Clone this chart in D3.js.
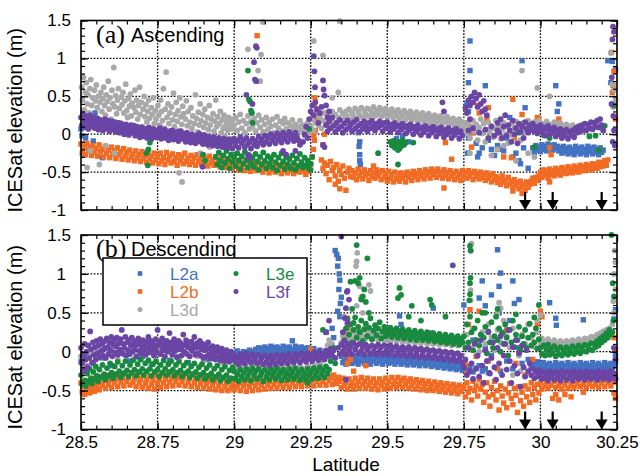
<!DOCTYPE html>
<html>
<head>
<meta charset="utf-8">
<script src="https://cdn.jsdelivr.net/npm/d3@7"></script>
<style>
  body { margin: 0; background: #fff; }
  text { font-family: "Liberation Sans", Arial, Helvetica, sans-serif; }
</style>
</head>
<body>
<div id="chart"></div>
<script>
// ---- axis / legend values ----
const latTicks = [28.5, 28.75, 29, 29.25, 29.5, 29.75, 30, 30.25];
const elevTicks = [-1, -0.5, 0, 0.5, 1, 1.5];
const arrowLats = [29.95, 30.04, 30.20];
const seriesNames = ["L2a", "L2b", "L3d", "L3e", "L3f"];
const seriesColors = ["#4372c3", "#f26b22", "#a8a8a8", "#178a3e", "#6a45a6"];
const seriesShapes = ["square", "square", "circle", "circle", "circle"];

// ---- (a) ascending: [latitude, elevation m] ----
const ascL2a = [
[28.500,.07],[28.503,-.02],[28.507,.30],[28.510,-.17],[28.512,-.27],[28.505,.12],[28.515,-.05],[28.546,.28],[28.540,-.09],[28.570,-.31],
[29.405,.02],[29.41,-.10],[29.41,-.27],[29.412,-.40],[29.408,-.16],[29.41,-.35],[29.53,-.06],[29.57,-.10],[29.55,-.02],
[29.77,1.23],[29.77,.84],[29.765,.68],[29.76,.41],[29.765,.30],[29.76,.15],[29.765,-.05],[29.762,-.25],[29.78,.02],[29.79,-.12],[29.80,-.25],[29.81,-.18],[29.795,-.30],[29.82,.64],[29.83,-.08],[29.84,-.20],[29.85,-.28],[29.86,-.15],[29.87,-.20],[29.88,-.22],[29.89,-.05],[29.90,.22],[29.91,-.30],[29.92,-.25],[29.93,-.35],[29.935,-.39],[29.94,.97],[29.95,.35],[29.945,-.18],[29.96,-.45],[29.98,.06],
[30.05,.64],[30.06,.40],[30.055,.30],[30.22,.97],[30.235,.96],[30.23,.68],[30.245,.85],
[29.975,-.18],[29.98,-.24],[29.985,-.15],[29.99,-.21],[29.995,-.17],[30.00,-.23],[30.005,-.14],[30.01,-.20],[30.015,-.16],[30.02,-.22],[30.025,-.13],[30.03,-.19],[30.035,-.15],[30.04,-.21],[30.045,-.14],[30.05,-.19],[30.055,-.16],[30.06,-.22],[30.065,-.18],[30.07,-.25],[30.075,-.16],[30.08,-.23],[30.085,-.19],[30.09,-.26],[30.095,-.17],[30.10,-.24],[30.105,-.20],[30.11,-.27],[30.115,-.16],[30.12,-.23],[30.125,-.19],[30.13,-.26],[30.135,-.17],[30.14,-.24],[30.145,-.20],[30.15,-.27],[30.155,-.16],[30.16,-.23],[30.165,-.19],[30.17,-.26],[30.175,-.17],[30.18,-.24],[30.185,-.20],[30.19,-.27],[30.195,-.18],[30.20,-.24],[30.205,-.21]
];
const ascL2b = [
[28.500,-.13],[28.504,-.25],[28.509,-.18],[28.514,-.27],[28.519,-.12],[28.524,-.22],[28.529,-.17],[28.534,-.28],[28.539,-.15],[28.544,-.24],[28.549,-.19],[28.554,-.29],[28.559,-.14],[28.564,-.23],[28.569,-.20],[28.574,-.30],[28.579,-.16],[28.584,-.25],[28.589,-.21],[28.594,-.31],[28.599,-.17],[28.604,-.26],[28.609,-.22],[28.614,-.32],[28.619,-.18],[28.624,-.27],[28.629,-.23],[28.634,-.33],[28.639,-.19],[28.644,-.29],[28.649,-.24],[28.654,-.34],[28.659,-.21],[28.664,-.30],[28.669,-.26],[28.674,-.35],[28.679,-.22],[28.684,-.31],[28.689,-.27],[28.694,-.36],[28.699,-.23],[28.704,-.32],[28.709,-.28],[28.714,-.37],[28.719,-.24],[28.724,-.33],[28.729,-.29],[28.734,-.38],[28.739,-.25],[28.744,-.34],
[28.749,-.30],[28.754,-.39],[28.759,-.25],[28.764,-.35],[28.769,-.31],[28.774,-.40],[28.779,-.24],[28.784,-.34],[28.789,-.29],[28.794,-.38],[28.799,-.26],[28.804,-.36],[28.809,-.31],[28.814,-.41],[28.819,-.27],[28.824,-.35],[28.829,-.30],[28.834,-.39],[28.839,-.25],[28.844,-.36],[28.849,-.32],[28.854,-.40],[28.859,-.28],[28.864,-.37],[28.869,-.31],[28.874,-.41],[28.879,-.27],[28.884,-.36],[28.889,-.33],[28.894,-.40],[28.899,-.28],[28.904,-.37],[28.909,-.32],[28.914,-.42],[28.919,-.29],[28.924,-.38],[28.929,-.34],[28.934,-.41],[28.939,-.30],[28.944,-.39],[28.949,-.35],[28.954,-.43],[28.959,-.31],[28.964,-.40],[28.969,-.36],[28.974,-.44],[28.979,-.32],[28.984,-.41],[28.989,-.37],[28.994,-.45],
[28.999,-.33],[29.004,-.42],[29.009,-.38],[29.014,-.47],[29.019,-.34],[29.024,-.43],[29.029,-.39],[29.034,-.48],[29.039,-.35],[29.044,-.44],[29.049,-.40],[29.054,-.49],[29.059,-.36],[29.064,-.45],[29.069,-.41],[29.074,-.48],[29.079,-.37],[29.084,-.46],[29.089,-.42],[29.094,-.50],[29.099,-.38],[29.104,-.45],[29.109,-.43],[29.114,-.51],[29.119,-.39],[29.124,-.47],[29.129,-.44],[29.134,-.50],[29.139,-.40],[29.144,-.46],[29.149,-.43],[29.154,-.52],[29.159,-.41],[29.164,-.48],[29.169,-.45],[29.174,-.51],[29.179,-.42],[29.184,-.47],[29.189,-.44],[29.194,-.52],[29.199,-.41],[29.204,-.49],[29.209,-.46],[29.214,-.50],[29.219,-.43],[29.224,-.48],[29.229,-.45],[29.234,-.53],[29.239,-.42],[29.244,-.49],
[29.075,1.30],[29.250,-.40],[29.255,-.30],[29.259,-.20],[29.262,-.08],[29.265,.05],[29.268,.18],[29.264,.48],[29.262,.39],[29.27,.28],[29.26,-.02],[29.29,-.14],[29.295,.00],
[29.285,-.34],[29.29,-.45],[29.295,-.38],[29.30,-.52],[29.305,-.41],[29.31,-.60],[29.315,-.36],[29.32,-.48],[29.325,-.44],[29.33,-.55],[29.335,-.40],[29.34,-.62],[29.345,-.47],[29.35,-.53],[29.355,-.42],[29.36,-.58],[29.365,-.74],[29.37,-.50],[29.375,-.45],[29.38,-.56],[29.33,-.66],[29.345,-.72],
[29.385,-.48],[29.39,-.57],[29.395,-.51],[29.40,-.60],[29.405,-.46],[29.41,-.55],[29.415,-.50],[29.42,-.59],[29.425,-.47],[29.43,-.54],[29.435,-.52],[29.44,-.61],[29.445,-.48],[29.45,-.56],[29.455,-.51],[29.46,-.58],[29.465,-.47],[29.47,-.55],[29.475,-.50],[29.48,-.60],[29.485,-.48],[29.49,-.57],[29.495,-.52],[29.50,-.62],[29.505,-.49],[29.51,-.58],[29.515,-.54],[29.52,-.63],[29.525,-.50],[29.53,-.59],[29.535,-.55],[29.54,-.62],[29.545,-.51],[29.55,-.58],[29.555,-.54],[29.56,-.63],[29.565,-.50],[29.57,-.57],[29.575,-.53],[29.58,-.61],[29.585,-.49],[29.59,-.56],[29.595,-.52],[29.60,-.60],[29.605,-.48],[29.61,-.55],[29.615,-.51],[29.62,-.59],[29.625,-.47],[29.63,-.54],[29.635,-.50],[29.64,-.58],[29.645,-.46],[29.65,-.53],[29.655,-.49],[29.66,-.57],[29.665,-.46],[29.67,-.54],[29.675,-.50],[29.68,-.58],[29.685,-.47],[29.69,-.55],[29.695,-.51],[29.70,-.59],[29.705,-.48],[29.71,-.56],[29.715,-.52],[29.72,-.60],[29.725,-.49],[29.73,-.57],[29.735,-.53],[29.74,-.61],[29.745,-.48],[29.75,-.56],[29.685,-.71],[29.69,-.11],[29.455,-.42],
[29.755,-.50],[29.76,-.58],[29.765,-.48],[29.77,-.55],[29.775,-.51],[29.78,-.60],[29.785,-.49],[29.79,-.56],[29.795,-.52],[29.80,-.59],[29.805,-.50],[29.81,-.57],[29.815,-.53],[29.82,-.61],[29.825,-.51],[29.83,-.58],[29.835,-.54],[29.84,-.63],[29.845,-.52],[29.85,-.60],
[29.855,-.56],[29.86,-.64],[29.865,-.58],[29.87,-.66],[29.875,-.55],[29.88,-.62],[29.885,-.60],[29.89,-.68],[29.895,-.57],[29.90,-.65],[29.905,-.62],[29.91,-.70],[29.915,-.60],[29.92,-.67],[29.925,-.64],[29.93,-.72],[29.935,-.62],[29.94,-.69],[29.945,-.66],[29.95,-.74],[29.955,-.63],[29.96,-.70],[29.965,-.66],[29.97,-.62],[29.975,-.58],[29.98,-.65],[29.985,-.57],[29.99,-.61],[29.995,-.55],[29.94,-.78],[29.91,-.75],
[30.00,-.50],[30.005,-.57],[30.01,-.47],[30.015,-.54],[30.02,-.49],[30.025,-.56],[30.03,-.46],[30.035,-.53],[30.04,-.48],[30.045,-.55],[30.05,-.45],[30.055,-.52],[30.06,-.47],[30.065,-.54],[30.07,-.44],[30.075,-.51],[30.08,-.46],[30.085,-.52],[30.09,-.43],[30.095,-.50],[30.10,-.45],[30.105,-.51],[30.11,-.42],[30.115,-.49],[30.12,-.44],[30.125,-.50],[30.13,-.41],[30.135,-.48],[30.14,-.43],[30.145,-.48],[30.15,-.40],[30.155,-.46],[30.16,-.42],[30.165,-.47],[30.17,-.39],[30.175,-.45],[30.18,-.40],[30.185,-.45],[30.19,-.37],[30.195,-.43],[30.20,-.38],[30.205,-.42],[30.21,-.35],[30.215,-.41],[30.22,-.34],
[29.91,.46],[29.94,.26],[29.925,.08],[29.915,-.05],[29.905,-.31],[29.83,.35],[29.825,.20],[29.99,.22],[29.995,.20],[30.03,-.18],[30.035,-.27],[30.06,.20],[30.025,-.58],[30.03,-.63],[29.77,.19],[29.78,.02],[29.775,-.17],[29.80,.28],[29.795,.38],[29.71,-.33],[29.86,-.20],[29.88,-.30],[30.05,.10],
[30.232,1.08],[30.24,.83],[30.237,.64],[30.235,.55],[30.238,.37],[30.245,.20]
];
const ascL3d = [
[28.502,.62],[28.505,.45],[28.508,.75],[28.511,.32],[28.514,.55],[28.517,.68],[28.52,.40],[28.523,.52],[28.526,.28],[28.529,.60],[28.532,.72],[28.535,.38],[28.538,.48],[28.541,.22],[28.544,.58],[28.547,.44],[28.55,.65],[28.553,.35],[28.556,.50],[28.559,.18],[28.562,.42],[28.565,.55],[28.568,.30],[28.571,.47],[28.574,.62],[28.577,.38],[28.58,.25],[28.583,.52],[28.586,.43],[28.589,.70],[28.592,.33],[28.595,.48],[28.598,.20],[28.601,.58],[28.604,.40],[28.607,.88],[28.61,.36],[28.613,.51],[28.616,.27],[28.619,.45],[28.622,.60],[28.625,.34],[28.628,.15],[28.631,.49],[28.634,.39],[28.637,.55],[28.64,.28],[28.643,.44],[28.646,.66],[28.649,.31],[28.652,.22],[28.655,.47],[28.658,.37],[28.661,.53],[28.664,.24],[28.667,.41],[28.67,.12],[28.673,.35],[28.676,.58],[28.679,.29],[28.682,.45],[28.685,.20],[28.688,.38],[28.691,.62],[28.694,.26],[28.697,.42],[28.70,.10],[28.703,.33],[28.706,.50],[28.709,.23],[28.712,.39],[28.715,.16],[28.718,.30],[28.721,.45],[28.724,.21],[28.727,.07],[28.73,.35],[28.733,.26],[28.736,.48],[28.739,.14],[28.742,.31],
[28.52,-.44],[28.56,-.40],[28.53,-.22],[28.58,-.15],[28.61,-.25],[28.82,-.51],[28.83,-.63],[28.89,-.25],[28.92,-.17],
[28.745,.20],[28.748,.04],[28.751,.38],[28.754,.25],[28.757,.12],[28.76,.45],[28.763,.30],[28.766,.18],[28.769,.60],[28.772,.08],[28.775,.33],[28.778,.82],[28.781,.22],[28.784,.40],[28.787,.14],[28.79,.28],[28.793,.02],[28.796,.36],[28.799,.19],[28.802,.54],[28.805,.10],[28.808,.26],[28.811,.42],[28.814,.17],[28.817,.31],[28.82,.05],[28.823,.48],[28.826,.23],[28.829,.13],[28.832,.37],[28.835,.27],[28.838,-.02],[28.841,.20],[28.844,.44],[28.847,.11],[28.85,.30],[28.856,.16],[28.859,.35],[28.862,.08],[28.865,.24],[28.871,.14],[28.874,.52],[28.877,.21],[28.88,.03],[28.883,.29],[28.886,.12],[28.889,.40],[28.892,.18],[28.895,-.10],[28.898,.26],[28.901,.09],[28.904,.33],[28.907,.15],[28.91,-.05],[28.913,.22],[28.916,.06],[28.919,.38],[28.922,.12],[28.925,.20],[28.928,-.15],[28.931,.27],[28.934,.04],[28.937,.17],[28.94,.45],[28.943,.10],[28.946,.23],[28.949,-.08],[28.952,.14],[28.955,.30],[28.958,.02],[28.961,.19],[28.964,.08],[28.967,.25],[28.97,-.03],[28.973,.12],[28.976,.18],[28.979,.05],[28.982,.22],[28.985,.10],[28.988,-.06],[28.991,.15],[28.994,.07],[28.997,.20],
[29.00,.12],[29.005,.22],[29.01,.05],[29.015,.16],[29.02,.26],[29.025,.08],[29.03,.18],[29.035,.02],[29.04,.14],[29.045,.24],[29.05,.07],[29.055,.17],[29.06,.10],[29.065,.21],[29.07,.04],[29.075,.15],[29.08,.25],[29.085,.09],[29.09,.19],[29.095,.03],[29.10,.13],[29.105,.22],[29.11,.06],[29.115,.16],[29.12,.10],[29.125,.20],[29.13,.02],[29.135,.12],[29.14,.23],[29.145,.08],[29.15,.17],[29.155,.04],[29.16,.14],[29.165,.21],[29.17,.07],[29.175,.15],[29.18,.01],[29.185,.11],[29.19,.19],[29.195,.06],[29.20,.13],[29.205,.03],[29.21,.10],[29.215,.18],[29.22,.05],[29.225,.12],[29.23,-.02],[29.235,.08],[29.24,.15],[29.245,.03],
[29.094,1.48],[29.088,1.05],[29.045,1.12],[29.078,.84],[29.085,.70],[29.26,1.23],[29.29,1.04],[29.345,1.49],[29.32,.48],[29.34,.55],
[29.25,.10],[29.255,.20],[29.26,.05],[29.265,.15],[29.27,.25],[29.275,.12],[29.28,.22],[29.285,.08],[29.29,.18],[29.295,.28],[29.30,.14],[29.305,.24],[29.31,.10],[29.315,.20],[29.32,.30],[29.325,.16],[29.33,.26],[29.335,.12],[29.34,.22],[29.345,.32],[29.35,.18],[29.355,.27],[29.36,.20],[29.365,.30],[29.37,.23],[29.375,.33],[29.38,.19],[29.385,.28],[29.39,.24],[29.395,.34],[29.40,.21],[29.405,.30],[29.41,.25],[29.415,.35],[29.42,.22],[29.425,.31],[29.43,.26],[29.435,.34],[29.44,.23],[29.445,.32],[29.45,.27],[29.455,.36],[29.46,.24],[29.465,.31],[29.47,.28],[29.475,.35],[29.48,.23],[29.485,.32],[29.49,.27],[29.495,.34],[29.50,.22],[29.505,.30],[29.51,.26],[29.515,.33],[29.52,.21],[29.525,.29],[29.53,.25],[29.535,.32],[29.54,.20],[29.545,.28],[29.55,.24],[29.555,.31],[29.56,.19],[29.565,.27],[29.57,.23],[29.575,.30],[29.58,.18],[29.585,.26],[29.59,.22],[29.595,.29],[29.60,.17],[29.605,.25],[29.61,.21],[29.615,.28],[29.62,.16],[29.625,.24],[29.63,.20],[29.635,.27],[29.64,.15],[29.645,.23],[29.65,.19],[29.655,.25],[29.66,.14],[29.665,.22],[29.67,.18],[29.675,.24],[29.68,.13],[29.685,.21],[29.69,.17],[29.695,.23],[29.70,.12],[29.705,.19],[29.71,.15],[29.715,.21],[29.72,.10],[29.725,.18],[29.73,.14],[29.735,.20],[29.74,.09],[29.745,.16],
[29.75,.08],[29.755,.15],[29.76,.02],[29.765,.12],[29.77,-.05],[29.775,.10],[29.78,.18],[29.785,.04],[29.79,.13],[29.795,-.08],[29.80,.09],[29.805,.20],[29.81,.01],[29.815,.14],[29.82,-.10],[29.825,.06],[29.83,.16],[29.835,.03],[29.84,.11],[29.845,-.04],[29.85,.08],[29.855,.18],[29.86,.02],[29.865,.12],[29.87,-.06],[29.875,.07],[29.88,.15],[29.885,.00],[29.89,.10],[29.895,-.12],[29.90,.05],[29.905,.14],[29.91,-.02],[29.915,.09],[29.92,.17],[29.925,.04],[29.93,.12],[29.935,-.08],[29.94,.06],[29.945,.15],[29.95,.03],[29.955,.11],[29.96,.18],[29.965,.05],[29.97,.13],[29.975,.08],[29.98,.16],[29.985,.04],[29.99,.12],[29.995,.18],[30.00,.07],[30.005,.14],[30.01,.03],[30.015,.11],[30.02,.17],[30.025,.06],[30.03,.13],[30.035,.02],[30.04,.10],[30.045,.16],[30.05,.05],[30.055,.12],[30.06,.08],[30.065,.15],[30.07,.04],[30.075,.11],[30.08,.06],[30.085,.13],[30.09,.03],[30.095,.10],[30.10,.07],[30.105,.12],[30.11,.04],[30.115,.09],[30.12,.06],[30.125,.11],[30.13,.03],[30.135,.08],[30.14,.05],[30.145,.10],[30.15,.07],[30.16,.12],[30.17,.06],[30.18,.10],[30.19,.14],[30.20,.08],
[29.94,.84],[29.99,.61],[30.03,.50],[29.96,-.25],[29.98,-.30],[29.92,-.35],[29.86,-.20],[29.84,-.28],[29.88,-.15],[29.77,-.25],
[30.23,1.07],[30.235,.66],[30.24,.58],[30.238,.36],[30.245,.45]
];
const ascL3e = [
[28.714,-.25],[28.718,-.41],[28.725,-.11],[28.72,-.20],[28.898,-.27],[28.905,-.35],
[28.94,-.30],[28.945,-.40],[28.95,-.24],[28.955,-.35],[28.96,-.44],[28.965,-.28],[28.97,-.38],[28.975,-.22],[28.98,-.33],[28.985,-.45],[28.99,-.27],[28.995,-.37],[29.00,-.30],[29.005,-.42],[29.01,-.25],[29.015,-.35],[29.02,-.46],[29.025,-.29],[29.03,-.39],[29.035,-.23],[29.04,-.34],[29.045,-.44],[29.05,-.28],[29.055,-.38],[29.06,-.31],[29.065,-.43],[29.07,-.26],[29.075,-.36],[29.08,-.47],[29.085,-.30],[29.09,-.40],[29.095,-.24],[29.10,-.35],[29.105,-.45],[29.11,-.29],[29.115,-.39],[29.12,-.32],[29.125,-.44],[29.13,-.27],[29.135,-.37],[29.14,-.48],[29.145,-.31],[29.15,-.41],[29.155,-.25],[29.16,-.36],[29.165,-.46],[29.17,-.30],[29.175,-.40],[29.18,-.33],[29.185,-.45],[29.19,-.28],[29.195,-.38],[29.20,-.47],[29.205,-.32],[29.21,-.42],[29.215,-.26],[29.22,-.37],[29.225,-.44],[29.23,-.31],[29.235,-.41],[29.24,-.35],[29.245,-.46],[29.25,-.39],[29.255,-.30],[29.25,-.47],
[29.045,.84],[29.048,.46],[29.052,.43],[29.055,.31],[29.058,.28],[29.06,.15],[29.20,-.02],[29.245,.07],
[29.47,-.25],[29.51,-.10],[29.515,-.15],[29.52,-.09],[29.525,-.18],[29.53,-.12],[29.535,-.21],[29.54,-.10],[29.545,-.16],[29.55,-.08],[29.555,-.14],[29.535,-.40],[29.585,-.11],[29.525,-.13],[29.54,-.19],[29.56,-.11],
[29.93,.02],[29.98,-.17],[30.01,-.01],[30.16,-.03],[30.18,-.02],[30.21,.11],[30.19,-.21],[30.24,.38],[30.03,-.05]
];
const ascL3f = [
[28.50,.22],[28.503,.12],[28.506,.26],[28.509,.09],[28.512,.18],[28.515,.24],[28.518,.11],[28.521,.20],[28.524,.07],[28.527,.16],[28.53,.25],[28.533,.10],[28.536,.19],[28.539,.13],[28.542,.22],[28.545,.08],[28.548,.17],[28.551,.12],[28.554,.21],[28.557,.06],[28.56,.15],[28.563,.19],[28.566,.09],[28.569,.17],[28.572,.05],[28.575,.14],[28.578,.20],[28.581,.08],[28.584,.15],[28.587,.11],[28.59,.18],[28.593,.04],[28.596,.13],[28.599,.09],[28.602,.17],[28.605,.06],[28.608,.12],[28.611,.16],[28.614,.03],[28.617,.11],[28.62,.08],[28.623,.15],[28.626,.02],[28.629,.10],[28.632,.14],[28.635,.05],[28.638,.12],[28.641,.00],[28.644,.09],[28.647,.13],[28.65,.04],[28.653,.10],[28.656,-.01],[28.659,.07],[28.662,.12],[28.665,.02],[28.668,.09],[28.671,.05],[28.674,.11],[28.677,-.02],[28.68,.06],[28.683,.10],[28.686,.01],[28.689,.08],[28.692,-.04],[28.695,.04],[28.698,.09],[28.701,.00],[28.704,.06],[28.707,-.03],[28.71,.07],[28.713,.02],[28.716,-.05],[28.719,.05],[28.722,.09],[28.725,-.02],[28.728,.04],[28.731,-.06],[28.734,.03],[28.737,.07],[28.74,-.01],[28.743,.05],[28.746,-.04],
[28.75,.04],[28.754,-.03],[28.758,.08],[28.762,-.06],[28.766,.02],[28.77,-.01],[28.774,.06],[28.778,-.05],[28.782,.01],[28.786,-.08],[28.79,.04],[28.794,-.02],[28.798,.05],[28.802,-.07],[28.806,.00],[28.81,-.04],[28.814,.03],[28.818,-.09],[28.822,-.01],[28.826,.04],[28.83,-.06],[28.834,.01],[28.838,-.03],[28.842,-.10],[28.846,.02],[28.85,-.05],[28.854,-.01],[28.858,-.11],[28.862,.00],[28.866,-.07],[28.87,-.03],[28.874,-.12],[28.878,-.02],[28.882,-.08],[28.886,.01],[28.89,-.10],[28.894,-.04],[28.898,-.13],[28.902,-.01],[28.906,-.09],[28.91,-.05],[28.914,-.14],[28.918,-.03],[28.922,-.10],[28.926,-.06],[28.93,-.15],[28.934,-.04],[28.938,-.11],[28.942,-.07],[28.946,-.16],[28.95,-.05],[28.954,-.12],[28.958,-.08],[28.962,-.17],[28.966,-.06],[28.97,-.13],[28.974,-.09],[28.978,-.18],[28.982,-.07],[28.986,-.14],[28.99,-.10],[28.994,-.19],[28.998,-.08],[28.897,-.43],[28.90,-.09],
[29.00,-.06],[29.005,-.15],[29.01,-.09],[29.015,-.18],[29.02,-.04],[29.025,-.12],[29.03,-.08],[29.035,-.17],[29.04,-.05],[29.045,-.13],[29.05,-.10],[29.055,-.19],[29.06,-.06],[29.065,-.14],[29.07,-.09],[29.075,-.16],[29.08,-.03],[29.085,-.11],[29.09,-.07],[29.095,-.14],[29.10,-.02],[29.105,-.10],[29.11,-.05],[29.115,-.13],[29.12,.00],[29.125,-.08],[29.13,-.04],[29.135,-.12],[29.14,.01],[29.145,-.07],[29.15,-.03],[29.155,-.11],[29.16,.02],[29.165,-.06],[29.17,-.02],[29.175,-.10],[29.18,.03],[29.185,-.05],[29.19,-.01],[29.195,-.09],[29.20,.02],[29.205,-.04],[29.21,-.08],[29.215,-.14],
[29.045,-.27],[29.05,-.31],[29.17,-.27],[29.16,-.22],[29.20,-.22],
[29.074,1.14],[29.071,1.16],[29.065,.95],[29.068,.72],[29.072,.70],[29.04,.52],[29.06,.40],
[29.225,-.10],[29.23,.00],[29.235,.10],[29.24,-.05],[29.245,.20],[29.25,.30],[29.255,.38],[29.26,.25],[29.265,.42],[29.27,.33],[29.275,.15],[29.28,.28],[29.285,.36],[29.26,1.03],[29.262,.83],[29.264,.62],[29.29,.71],[29.292,.59],[29.295,.51],[29.30,.38],[29.305,.22],[29.31,.30],[29.29,-.14],[29.295,-.17],
[29.30,.12],[29.305,.04],[29.31,.17],[29.315,.08],[29.32,.22],[29.325,.11],[29.33,.03],[29.335,.15],[29.34,.07],[29.345,.19],[29.35,.10],[29.355,.02],[29.36,.14],[29.365,.06],[29.37,.18],[29.375,.09],[29.38,.13],[29.385,.04],[29.39,.16],[29.395,.08],[29.40,.19],[29.405,.11],[29.41,.03],[29.415,.14],[29.42,.07],[29.425,.17],[29.43,.10],[29.435,.04],[29.44,.15],[29.445,.08],[29.45,.18],[29.455,.11],[29.46,.05],[29.465,.14],[29.47,.09],[29.475,.17],[29.48,.12],[29.485,.04],[29.49,.15],[29.495,.08],[29.50,.16],[29.505,.10],[29.51,.03],[29.515,.13],[29.52,.07],[29.525,.15],[29.53,.10],[29.535,.02],[29.54,.12],[29.545,.06],[29.55,.14],[29.555,.09],[29.56,.01],[29.565,.11],[29.57,.05],[29.575,.13],[29.58,.08],[29.585,.00],[29.59,.10],[29.595,.04],[29.60,.12],[29.605,.07],[29.61,-.01],[29.615,.09],[29.62,.03],[29.625,.11],[29.63,.06],[29.635,-.02],[29.64,.08],[29.645,.02],[29.65,.10],[29.655,.05],[29.66,-.03],[29.665,.07],[29.67,.01],[29.675,.09],[29.68,.04],[29.685,-.04],[29.69,.06],[29.695,.00],[29.70,.08],[29.705,.03],[29.71,-.05],[29.715,.05],[29.72,-.01],[29.725,.07],[29.73,.02],[29.735,-.06],[29.74,.04],[29.745,-.02],
[29.68,.42],[29.685,.30],
[29.755,.35],[29.76,.28],[29.765,.45],[29.77,.38],[29.775,.50],[29.78,.42],[29.785,.55],[29.79,.47],[29.795,.36],[29.80,.52],[29.805,.40],[29.81,.30],[29.815,.44],[29.82,.33],[29.825,.25],
[29.765,.05],[29.77,.20],[29.78,.08],[29.80,.02],[29.82,.06],[29.83,-.05],[29.84,.10],[29.85,-.02],[29.86,.05],
[29.86,.15],[29.865,.02],[29.87,.20],[29.875,-.05],[29.88,.10],[29.885,.25],[29.89,-.02],[29.895,.12],[29.90,.05],[29.905,-.10],[29.91,.18],[29.915,.00],[29.92,.08],[29.925,-.12],[29.93,.14],[29.935,.03],[29.94,.10],[29.945,-.05],[29.95,.16],[29.955,.07],[29.96,.02],[29.965,.12],[29.97,.06],[29.975,.14],[29.98,.04],[29.985,.10],[29.99,.01],[29.995,.08],[30.00,.12],[30.005,.03],[30.01,.09],[30.015,-.02],[30.02,.06],[30.025,.11],[30.03,.00],[30.035,.07],[30.04,.02],[30.045,.09],[30.05,-.03],[30.055,.05],[30.06,.00],[30.065,.07],[30.07,-.05],[30.075,.04],[30.08,-.02],[30.085,.06],[30.09,-.06],[30.095,.03],[30.10,-.01],[30.105,.05],[30.11,-.04],[30.115,.08],[30.12,.02],[30.125,.10],[30.13,.04],[30.135,.12],[30.14,.06],[30.145,.14],[30.15,.05],[30.155,.13],[30.16,.08],[30.165,.16],[30.17,.07],[30.175,.15],[30.18,.10],[30.185,.18],[30.19,.09],[30.195,.20],[30.20,.12],[30.205,.05],
[30.237,1.42],[30.24,1.35],[30.235,1.25],[30.233,.75],[30.238,.24],[30.232,.40],[30.24,.05],[30.236,-.10],[30.243,-.15]
];

// ---- (b) descending: [latitude, elevation m] ----
const desL2a = [
[28.50,-.13],[28.51,-.20],[28.52,-.05],[28.54,-.15],[28.57,-.08],[28.60,-.18],[28.63,-.02],[28.66,-.12],[28.70,-.06],[28.73,-.16],[28.76,-.03],[28.79,-.11],[28.82,-.07],[28.85,-.14],[28.88,-.04],[28.91,-.10],[28.94,.00],[28.96,-.05],[28.98,-.09],
[29.00,-.02],[29.005,-.08],[29.01,.01],[29.015,-.06],[29.02,-.03],[29.025,-.09],[29.03,.00],[29.035,-.05],[29.04,-.01],[29.045,-.07],[29.05,.02],[29.055,-.04],[29.06,.00],[29.065,-.06],[29.07,.03],[29.075,-.03],[29.08,.05],[29.085,-.02],[29.09,.04],[29.095,-.01],[29.10,.06],[29.105,.00],[29.11,.04],[29.115,-.02],[29.12,.07],[29.125,.01],[29.13,.05],[29.135,-.01],[29.14,.06],[29.145,.00],[29.15,.04],[29.155,-.02],[29.16,.07],[29.165,.02],[29.17,.05],[29.175,-.01],[29.18,.06],[29.185,.01],[29.19,.14],[29.195,.03],[29.20,.07],[29.205,.00],[29.21,.05],[29.215,-.02],[29.22,.06],[29.225,.01],[29.23,.04],[29.235,-.01],[29.24,.05],[29.245,.00],[29.25,.03],[29.255,-.02],[29.26,.04],[29.27,.00],[29.28,.02],[29.29,-.03],[29.30,.01],[29.31,-.04],
[29.33,1.30],[29.335,1.25],[29.34,1.20],[29.338,1.10],[29.343,1.00],[29.345,.92],[29.342,.80],[29.35,.70],[29.347,.62],[29.338,.52],[29.345,.45],[29.32,.30],[29.325,.18],[29.347,-.72],[29.30,.25],
[29.35,-.06],[29.355,-.14],[29.36,-.09],[29.365,-.16],[29.37,-.05],[29.375,-.12],[29.38,-.08],[29.385,-.15],[29.39,-.06],[29.395,-.13],[29.40,-.09],[29.405,-.16],[29.41,-.05],[29.415,-.12],[29.42,-.08],[29.425,-.15],[29.43,-.06],[29.435,-.13],[29.44,-.09],[29.445,-.16],[29.45,-.05],[29.455,-.12],[29.46,-.08],[29.465,-.15],[29.47,-.06],[29.475,-.13],[29.48,-.09],[29.485,-.16],[29.49,-.05],[29.495,-.12],[29.50,-.08],[29.505,-.15],[29.51,-.06],[29.515,-.13],[29.52,-.09],[29.525,-.16],[29.53,-.06],[29.535,-.13],[29.54,-.09],[29.545,-.16],[29.55,-.07],[29.555,-.14],[29.56,-.10],[29.565,-.17],[29.57,-.07],[29.575,-.14],[29.58,-.10],[29.585,-.17],[29.59,-.08],[29.595,-.15],[29.60,-.11],[29.605,-.18],[29.61,-.08],[29.615,-.15],[29.62,-.11],[29.625,-.18],[29.63,-.09],[29.635,-.16],[29.64,-.12],[29.645,-.19],[29.65,-.10],[29.655,-.17],[29.66,-.13],[29.665,-.20],[29.67,-.11],[29.675,-.18],[29.68,-.14],[29.685,-.21],[29.69,-.12],[29.695,-.19],[29.70,-.15],[29.705,-.22],[29.71,-.13],[29.715,-.20],[29.72,-.16],[29.725,-.23],[29.73,-.14],[29.735,-.21],[29.74,-.17],[29.745,-.24],[29.75,-.16],[29.76,-.22],[29.77,-.19],[29.78,-.26],[29.79,-.21],[29.80,-.18],[29.81,-.25],[29.82,-.22],[29.83,-.27],
[29.41,.24],[29.42,.12],[29.54,.46],[29.545,.35],[29.65,.56],[29.645,.24],[29.75,.60],[29.80,.69],[29.81,.91],[29.84,.73],[29.86,1.31],[29.865,.84],[29.87,1.01],[29.91,.91],[29.93,.67],[29.915,.62],[29.82,.59],[29.865,.50],[30.03,.63],[30.05,.43],[30.052,.34],[30.14,.41],[29.78,.15],[29.82,.05],[29.84,-.05],[29.88,.25],[29.90,.40],[29.93,.05],[29.96,-.10],[29.97,-.20],[29.89,-.12],[29.91,-.22],[29.94,-.15],[29.87,-.25],
[29.98,-.16],[29.985,-.22],[29.99,-.13],[29.995,-.20],[30.00,-.17],[30.005,-.23],[30.01,-.14],[30.015,-.21],[30.02,-.17],[30.025,-.24],[30.03,-.15],[30.035,-.21],[30.04,-.18],[30.045,-.24],[30.05,-.14],[30.055,-.20],[30.06,-.17],[30.065,-.23],[30.07,-.15],[30.075,-.21],[30.08,-.18],[30.085,-.24],[30.09,-.14],[30.095,-.20],[30.10,-.17],[30.105,-.23],[30.11,-.15],[30.115,-.21],[30.12,-.18],[30.125,-.24],[30.13,-.14],[30.135,-.20],[30.14,-.17],[30.145,-.23],[30.15,-.15],[30.155,-.21],[30.16,-.18],[30.165,-.24],[30.17,-.14],[30.175,-.20],[30.18,-.17],[30.185,-.23],[30.19,-.15],[30.195,-.21],[30.20,-.18],[30.205,-.24],[30.21,-.14],[30.215,-.20],[30.22,-.17],[30.225,-.23],[30.23,-.15],[30.235,-.21],[30.24,-.18],[30.245,-.13],
[30.245,.54],[30.24,.42],[30.245,-.05]
];
const desL2b = [
[28.50,-.40],[28.504,-.52],[28.508,-.45],[28.512,-.55],[28.516,-.38],[28.52,-.49],[28.524,-.43],[28.528,-.53],[28.532,-.36],[28.536,-.47],[28.54,-.41],[28.544,-.51],[28.548,-.34],[28.552,-.45],[28.556,-.39],[28.56,-.49],[28.565,-.32],[28.57,-.43],[28.575,-.37],[28.58,-.47],[28.585,-.30],[28.59,-.42],[28.595,-.36],[28.60,-.46],[28.605,-.29],[28.61,-.40],[28.615,-.35],[28.62,-.45],[28.625,-.28],[28.63,-.39],[28.635,-.34],[28.64,-.44],[28.645,-.27],[28.65,-.38],[28.655,-.33],[28.66,-.43],[28.665,-.28],[28.67,-.39],[28.675,-.34],[28.68,-.45],[28.685,-.29],[28.69,-.40],[28.695,-.35],[28.70,-.46],[28.705,-.30],[28.71,-.41],[28.715,-.36],[28.72,-.47],[28.725,-.31],[28.73,-.42],[28.735,-.37],[28.74,-.48],[28.745,-.30],[28.75,-.41],[28.755,-.36],[28.76,-.46],[28.765,-.29],[28.77,-.40],[28.775,-.35],[28.78,-.45],[28.785,-.28],[28.79,-.39],[28.795,-.34],[28.80,-.44],[28.805,-.27],[28.81,-.38],[28.815,-.33],[28.82,-.43],[28.825,-.27],[28.83,-.38],[28.835,-.33],[28.84,-.44],[28.845,-.28],[28.85,-.39],[28.855,-.34],[28.86,-.45],[28.865,-.29],[28.87,-.40],[28.875,-.35],[28.88,-.46],[28.885,-.30],[28.89,-.41],[28.895,-.36],[28.90,-.47],[28.905,-.31],[28.91,-.42],[28.915,-.37],[28.92,-.48],[28.925,-.33],[28.93,-.43],[28.935,-.38],[28.94,-.49],[28.945,-.34],[28.95,-.44],[28.955,-.39],[28.96,-.50],[28.965,-.35],[28.97,-.45],[28.975,-.40],[28.98,-.50],[28.985,-.36],[28.99,-.46],[28.995,-.41],
[29.00,-.49],[29.005,-.37],[29.01,-.45],[29.015,-.40],[29.02,-.50],[29.025,-.36],[29.03,-.44],[29.035,-.41],[29.04,-.51],[29.045,-.37],[29.05,-.45],[29.055,-.40],[29.06,-.50],[29.065,-.35],[29.07,-.44],[29.075,-.39],[29.08,-.49],[29.085,-.34],[29.09,-.43],[29.095,-.38],[29.10,-.48],[29.105,-.34],[29.11,-.42],[29.115,-.38],[29.12,-.47],[29.125,-.33],[29.13,-.42],[29.135,-.37],[29.14,-.47],[29.145,-.33],[29.15,-.41],[29.155,-.37],[29.16,-.46],[29.165,-.32],[29.17,-.41],[29.175,-.36],[29.18,-.46],[29.185,-.32],[29.19,-.40],[29.195,-.36],[29.20,-.45],[29.205,-.31],[29.21,-.40],[29.215,-.35],[29.22,-.45],[29.225,-.31],[29.23,-.39],[29.235,-.35],[29.24,-.44],[29.245,-.30],[29.25,-.39],[29.255,-.34],[29.26,-.44],[29.265,-.30],[29.27,-.38],[29.275,-.34],[29.28,-.43],[29.285,-.29],[29.29,-.38],[29.295,-.33],[29.30,-.43],[29.305,-.29],[29.31,-.37],[29.315,-.33],[29.32,-.42],[29.325,-.30],[29.33,-.37],[29.335,-.41],[29.34,-.33],
[29.37,.43],[29.372,.30],[29.368,.20],[29.375,.08],[29.365,-.05],[29.37,-.15],[29.36,.00],[29.38,-.10],[29.25,.03],[29.43,-.18],[29.42,.05],[29.39,-.25],
[29.345,-.38],[29.35,-.46],[29.355,-.34],[29.36,-.43],[29.365,-.39],[29.37,-.48],[29.375,-.35],[29.38,-.44],[29.385,-.40],[29.39,-.48],[29.395,-.34],[29.40,-.43],[29.405,-.38],[29.41,-.47],[29.415,-.33],[29.42,-.42],[29.425,-.38],[29.43,-.47],[29.435,-.34],[29.44,-.43],[29.445,-.39],[29.45,-.48],[29.455,-.35],[29.46,-.44],[29.465,-.40],[29.47,-.49],[29.475,-.35],[29.48,-.43],[29.485,-.39],[29.49,-.48],[29.495,-.34],[29.50,-.43],[29.505,-.38],[29.51,-.47],[29.515,-.33],[29.52,-.42],[29.525,-.38],[29.53,-.46],[29.535,-.33],[29.54,-.42],[29.545,-.37],[29.55,-.46],[29.555,-.34],[29.56,-.42],[29.565,-.38],[29.57,-.47],[29.575,-.35],[29.58,-.43],[29.585,-.39],[29.59,-.48],[29.595,-.36],[29.60,-.44],[29.605,-.40],[29.61,-.49],[29.615,-.37],[29.62,-.45],[29.625,-.41],[29.63,-.50],[29.635,-.38],[29.64,-.46],[29.645,-.42],[29.65,-.50],[29.655,-.39],[29.66,-.47],[29.665,-.43],[29.67,-.51],[29.675,-.40],[29.68,-.48],[29.685,-.44],[29.69,-.52],[29.695,-.41],[29.70,-.49],[29.705,-.45],[29.71,-.53],[29.715,-.42],[29.72,-.50],[29.725,-.46],[29.73,-.54],[29.735,-.43],[29.74,-.51],[29.745,-.47],
[29.75,-.45],[29.755,-.58],[29.76,-.40],[29.765,-.52],[29.77,-.47],[29.775,-.62],[29.78,-.38],[29.785,-.50],[29.79,-.44],[29.795,-.57],[29.80,-.36],[29.805,-.48],[29.81,-.42],[29.815,-.65],[29.82,-.52],[29.825,-.40],[29.83,-.58],[29.835,-.70],[29.84,-.46],[29.845,-.55],[29.85,-.38],[29.855,-.62],[29.86,-.50],[29.865,-.75],[29.87,-.44],[29.875,-.57],[29.88,-.66],[29.885,-.48],[29.89,-.72],[29.895,-.53],[29.90,-.41],[29.905,-.60],[29.91,-.68],[29.915,-.47],[29.92,-.56],[29.925,-.78],[29.93,-.45],[29.935,-.63],[29.94,-.52],[29.945,-.70],[29.95,-.44],[29.955,-.58],[29.96,-.48],[29.965,-.65],[29.97,-.40],[29.975,-.55],[29.98,-.46],[29.985,-.62],[29.99,-.42],[29.995,-.53],
[29.755,-.17],[29.76,-.28],[29.77,.54],[29.79,-.06],[29.80,.52],[29.83,-.12],[29.86,-.22],[29.89,.28],[29.92,-.15],[29.95,-.30],[30.00,.52],[30.005,.45],[29.99,.35],[29.975,-.10],[29.765,.35],
[30.00,-.40],[30.005,-.48],[30.01,-.34],[30.015,-.44],[30.02,-.39],[30.025,-.47],[30.03,-.33],[30.035,-.43],[30.04,-.60],[30.045,-.38],[30.05,-.46],[30.055,-.35],[30.06,-.44],[30.065,-.39],[30.07,-.48],[30.075,-.33],[30.08,-.42],[30.085,-.37],[30.09,-.47],[30.095,-.34],[30.10,-.43],[30.105,-.38],[30.11,-.46],[30.115,-.32],[30.12,-.41],[30.125,-.36],[30.13,-.45],[30.135,-.33],[30.14,-.42],[30.145,-.37],[30.15,-.46],[30.155,-.32],[30.16,-.41],[30.165,-.36],[30.17,-.45],[30.175,-.33],[30.18,-.42],[30.185,-.37],[30.19,-.46],[30.195,-.32],[30.20,-.40],[30.205,-.36],[30.21,-.45],[30.215,-.31],[30.22,-.40],[30.225,-.35],[30.23,-.44],[30.235,-.30],[30.24,-.39],[30.245,-.34],
[30.05,-.55],[30.06,-.62],[30.08,-.55],[30.10,-.58],[30.14,-.52],[30.24,.18],[30.245,.03],[30.24,-.53],[30.245,-.60]
];
const desL3d = [
[28.50,-.06],[28.505,-.15],[28.51,-.22],[28.515,-.10],[28.52,-.18],[28.53,-.04],[28.55,.02],[28.56,-.08],[28.575,.05],[28.59,-.02],[28.60,.03],[28.62,-.10],[28.64,-.04],[28.66,.00],[28.68,-.08],[28.70,-.02],[28.72,-.12],[28.74,-.05],[28.76,.02],[28.785,.06],[28.80,-.03],[28.82,-.09],[28.84,-.02],[28.86,.03],[28.88,-.06],[28.90,-.11],[28.92,-.04],[28.94,-.09],[28.96,-.14],[28.98,-.07],
[29.00,-.12],[29.006,-.20],[29.012,-.15],[29.018,-.23],[29.024,-.13],[29.03,-.19],[29.036,-.16],[29.042,-.24],[29.048,-.14],[29.054,-.21],[29.06,-.17],[29.066,-.25],[29.072,-.15],[29.078,-.22],[29.084,-.18],[29.09,-.26],[29.096,-.16],[29.102,-.23],[29.108,-.19],[29.114,-.27],[29.12,-.17],[29.126,-.24],[29.132,-.20],[29.138,-.27],[29.144,-.18],[29.15,-.25],[29.156,-.21],[29.162,-.28],[29.168,-.19],[29.174,-.25],[29.18,-.21],[29.186,-.28],[29.192,-.19],[29.198,-.26],[29.204,-.22],[29.21,-.29],[29.216,-.20],[29.222,-.26],[29.228,-.22],[29.234,-.28],[29.24,-.19],[29.246,-.25],[29.252,-.21],[29.258,-.27],[29.264,-.18],[29.27,-.24],[29.276,-.20],[29.282,-.15],[29.288,-.10],[29.294,-.05],[29.30,.00],[29.305,.08],[29.31,.15],[29.315,.02],[29.32,.10],
[29.40,1.16],[29.402,1.27],[29.398,1.10],[29.44,.86],[29.445,.78],[29.40,.59],[29.41,.84],[29.415,.70],[29.42,.50],[29.37,.35],[29.36,.45],[29.39,.28],
[29.35,.12],[29.355,.20],[29.36,.16],[29.365,.25],[29.37,.14],[29.375,.22],[29.38,.18],[29.385,.27],[29.39,.15],[29.395,.23],[29.40,.19],[29.405,.28],[29.41,.16],[29.415,.24],[29.42,.20],[29.425,.29],[29.43,.17],[29.435,.25],[29.44,.21],[29.445,.28],[29.45,.16],[29.455,.24],[29.46,.20],[29.465,.27],[29.47,.15],[29.475,.23],[29.48,.19],[29.485,.26],[29.49,.14],[29.495,.22],[29.50,.18],[29.505,.25],[29.51,.13],[29.515,.21],[29.52,.17],[29.525,.24],[29.53,.13],[29.535,.20],[29.54,.16],[29.545,.23],[29.55,.12],[29.555,.19],[29.56,.15],[29.565,.22],[29.57,.12],[29.575,.18],[29.58,.15],[29.585,.21],[29.59,.11],[29.595,.18],[29.60,.14],[29.605,.21],[29.61,.11],[29.615,.17],[29.62,.14],[29.625,.20],[29.63,.10],[29.635,.17],[29.64,.13],[29.645,.19],[29.65,.10],[29.655,.16],[29.66,.13],[29.665,.19],[29.67,.09],[29.675,.16],[29.68,.12],[29.685,.18],[29.69,.09],[29.695,.15],[29.70,.12],[29.705,.18],[29.71,.08],[29.715,.15],[29.72,.11],[29.725,.17],[29.73,.08],[29.735,.14],[29.74,.11],[29.745,.17],
[29.775,1.39],[29.773,1.30],[29.772,.79],[29.772,.66],[29.87,.56],[29.865,.63],[29.86,.50],[30.00,.47],[29.99,.40],
[29.75,.10],[29.76,.22],[29.77,.05],[29.78,.30],[29.79,.15],[29.80,.00],[29.81,.25],[29.82,.10],[29.83,.35],[29.84,.18],[29.85,.02],[29.86,.28],[29.87,.12],[29.88,.40],[29.89,.20],[29.90,.05],[29.91,.30],[29.92,.15],[29.93,-.05],[29.94,.22],[29.95,.10],[29.96,.35],[29.97,.18],[29.98,.06],[29.99,.25],[29.935,-.25],[29.91,-.30],
[30.00,.10],[30.005,.17],[30.01,.06],[30.015,.13],[30.02,.09],[30.025,.16],[30.03,.05],[30.035,.12],[30.04,.08],[30.045,.15],[30.05,.04],[30.055,.11],[30.06,.07],[30.065,.14],[30.07,.04],[30.075,.11],[30.08,.07],[30.085,.14],[30.09,.05],[30.095,.12],[30.10,.08],[30.105,.15],[30.11,.06],[30.115,.13],[30.12,.09],[30.125,.16],[30.13,.07],[30.135,.14],[30.14,.10],[30.145,.17],[30.15,.09],[30.155,.16],[30.16,.12],[30.165,.19],[30.17,.11],[30.175,.19],[30.18,.14],[30.185,.22],[30.19,.15],[30.195,.24],[30.20,.17],[30.205,.26],[30.21,.19],[30.215,.28],[30.22,.21],[30.225,.30],
[30.242,1.30],[30.245,1.15],[30.24,1.00],[30.238,.65],[30.24,.50],[30.235,.35],[30.245,.80]
];
const desL3e = [
[28.50,-.30],[28.504,-.42],[28.508,-.25],[28.512,-.37],[28.516,-.44],[28.52,-.28],[28.524,-.38],[28.528,-.22],[28.532,-.34],[28.536,-.41],[28.54,-.26],[28.544,-.35],[28.548,-.19],[28.552,-.31],[28.556,-.38],[28.56,-.23],[28.565,-.33],[28.57,-.17],[28.575,-.29],[28.58,-.36],[28.585,-.21],[28.59,-.31],[28.595,-.15],[28.60,-.27],[28.605,-.34],[28.61,-.19],[28.615,-.29],[28.62,-.13],[28.625,-.25],[28.63,-.33],[28.635,-.18],[28.64,-.28],[28.645,-.12],[28.65,-.24],[28.655,-.32],[28.66,-.17],[28.665,-.27],[28.67,-.11],[28.675,-.23],[28.68,-.31],[28.685,-.16],[28.69,-.26],[28.695,-.10],[28.70,-.22],[28.705,-.30],[28.71,-.15],[28.715,-.25],[28.72,-.11],[28.725,-.22],[28.73,-.31],[28.735,-.16],[28.74,-.26],[28.745,-.12],[28.75,-.23],[28.755,-.32],[28.76,-.17],[28.765,-.27],[28.77,-.11],[28.775,-.22],[28.78,-.30],[28.785,-.16],[28.79,-.26],[28.795,-.12],[28.80,-.23],[28.805,-.31],[28.81,-.17],[28.815,-.27],[28.82,-.13],[28.825,-.24],[28.83,-.32],[28.835,-.18],[28.84,-.28],[28.845,-.14],[28.85,-.25],[28.855,-.33],[28.86,-.19],[28.865,-.29],[28.87,-.15],[28.875,-.26],[28.88,-.34],[28.885,-.20],[28.89,-.30],[28.895,-.16],[28.90,-.27],[28.905,-.35],[28.91,-.21],[28.915,-.31],[28.92,-.17],[28.925,-.28],[28.93,-.36],[28.935,-.22],[28.94,-.32],[28.945,-.18],[28.95,-.29],[28.955,-.37],[28.96,-.23],[28.965,-.33],[28.97,-.19],[28.975,-.30],[28.98,-.38],[28.985,-.24],[28.99,-.34],[28.995,-.20],
[29.00,-.25],[29.005,-.35],[29.01,-.29],[29.015,-.38],[29.02,-.23],[29.025,-.32],[29.03,-.27],[29.035,-.36],[29.04,-.22],[29.045,-.31],[29.05,-.26],[29.055,-.37],[29.06,-.21],[29.065,-.30],[29.07,-.25],[29.075,-.35],[29.08,-.22],[29.085,-.31],[29.09,-.27],[29.095,-.38],[29.10,-.23],[29.105,-.32],[29.11,-.28],[29.115,-.36],[29.12,-.22],[29.125,-.30],[29.13,-.26],[29.135,-.35],[29.14,-.21],[29.145,-.31],[29.15,-.27],[29.155,-.37],[29.16,-.23],[29.165,-.32],[29.17,-.28],[29.175,-.36],[29.18,-.22],[29.185,-.30],[29.19,-.26],[29.195,-.35],[29.20,-.21],[29.205,-.31],[29.21,-.27],[29.215,-.37],[29.22,-.23],[29.225,-.32],[29.23,-.28],[29.235,-.36],[29.24,-.22],[29.245,-.30],[29.25,-.26],[29.255,-.35],[29.26,-.21],[29.265,-.31],[29.27,-.25],[29.275,-.34],[29.28,-.20],[29.285,-.29],[29.29,-.24],[29.295,-.33],[29.30,-.19],[29.305,-.28],[29.31,-.23],[29.315,-.12],[29.32,-.05],[29.325,.05],[29.33,-.15],[29.24,-.40],
[29.29,.28],[29.395,.91],[29.40,1.37],[29.435,1.20],[29.38,.90],[29.41,.95],[29.405,.88],[29.42,.71],[29.415,.67],[29.43,.64],[29.44,.50],[29.425,.80],[29.39,.37],[29.385,.55],[29.54,.82],[29.545,.73],[29.535,.69],[29.58,.59],[29.64,.67],[29.645,.60],[29.77,1.36],[29.772,1.30],[29.772,.95],[29.77,.88],[29.77,.74],[29.768,.66],[29.57,.45],[29.61,.40],[29.69,.45],
[29.36,.15],[29.365,.30],[29.37,.42],[29.375,.22],[29.38,.35],[29.385,.12],[29.39,.28],[29.395,.44],[29.40,.18],[29.405,.32],[29.41,.25],[29.415,.40],[29.42,.14],[29.425,.29],[29.43,.36],[29.435,.20],[29.44,.31],[29.445,.43],[29.45,.16],[29.455,.27],[29.46,.34],[29.465,.21],[29.47,.30],[29.475,.38],[29.48,.17],[29.485,.26],[29.49,.32],[29.495,.20],[29.50,.28],[29.505,.24],[29.51,.31],[29.515,.19],[29.52,.27],[29.525,.23],[29.53,.30],[29.535,.18],[29.54,.26],[29.545,.22],[29.55,.29],[29.555,.17],[29.56,.25],[29.565,.21],[29.57,.28],[29.575,.16],[29.58,.24],[29.585,.20],[29.59,.27],[29.595,.15],[29.60,.23],[29.605,.19],[29.61,.26],[29.615,.15],[29.62,.22],[29.625,.18],[29.63,.25],[29.635,.14],[29.64,.21],[29.645,.17],[29.65,.24],[29.655,.13],[29.66,.20],[29.665,.16],[29.67,.23],[29.675,.12],[29.68,.19],[29.685,.15],[29.69,.22],[29.695,.11],[29.70,.18],[29.705,.14],[29.71,.21],[29.715,.10],[29.72,.17],[29.725,.13],[29.73,.20],[29.735,.09],[29.74,.16],[29.745,.12],
[29.75,.20],[29.755,.05],[29.76,.35],[29.765,.12],[29.77,.45],[29.775,.25],[29.78,.02],[29.785,.30],[29.79,.15],[29.795,.40],[29.80,.08],[29.805,.22],[29.81,.50],[29.815,.18],[29.82,.32],[29.825,-.02],[29.83,.26],[29.835,.12],[29.84,.38],[29.845,.05],[29.85,.20],[29.855,.45],[29.86,.15],[29.865,.30],[29.87,.00],[29.875,.24],[29.88,.10],[29.885,.35],[29.89,.18],[29.895,-.05],[29.90,.28],[29.905,.12],[29.91,.40],[29.915,.06],[29.92,.22],[29.925,.15],[29.93,.32],[29.935,.02],[29.94,.20],[29.945,.10],[29.95,.28],[29.955,.05],[29.96,.18],[29.965,.36],[29.97,.08],[29.975,.22],[29.98,.12],[29.985,.30],[29.99,.04],[29.995,.16],[29.82,.50],[29.86,.55],[29.92,.48],[29.98,.44],[29.995,.60],
[30.00,.05],[30.005,-.03],[30.01,.08],[30.015,-.05],[30.02,.02],[30.025,.09],[30.03,-.04],[30.035,.04],[30.04,-.02],[30.045,.07],[30.05,-.06],[30.055,.03],[30.06,-.03],[30.065,.06],[30.07,-.05],[30.075,.02],[30.08,-.02],[30.085,.06],[30.09,-.04],[30.095,.03],[30.10,-.01],[30.105,.07],[30.11,-.03],[30.115,.04],[30.12,.00],[30.125,.08],[30.13,-.02],[30.135,.05],[30.14,.01],[30.145,.09],[30.15,.00],[30.155,.07],[30.16,.03],[30.165,.11],[30.17,.02],[30.175,.10],[30.18,.06],[30.185,.14],[30.19,.08],[30.195,.17],[30.20,.12],[30.205,.20],[30.21,.15],[30.215,.24],[30.22,.18],[30.225,.28],[30.23,.22],
[30.232,1.50],[30.236,.88],[30.24,.71],[30.238,.40],[30.235,.25]
];
const desL3f = [
[28.50,.05],[28.503,-.15],[28.506,-.05],[28.509,-.25],[28.512,.10],[28.515,-.10],[28.518,.00],[28.521,-.20],[28.524,.08],[28.527,-.08],[28.53,.26],[28.533,.03],[28.536,-.14],[28.539,.12],[28.542,-.04],[28.545,.06],[28.548,-.10],[28.551,.14],[28.554,-.02],[28.557,.08],[28.56,-.07],[28.563,.16],[28.566,.01],[28.569,.10],[28.572,-.05],[28.575,.13],[28.578,.04],[28.581,-.08],[28.584,.17],[28.587,.06],[28.59,-.03],[28.593,.12],[28.596,.02],[28.599,.19],[28.602,-.06],[28.605,.09],[28.608,.15],[28.611,-.01],[28.614,.07],[28.617,.18],[28.62,-.04],[28.623,.11],[28.626,.03],[28.629,.16],[28.633,.28],[28.636,-.02],[28.639,.10],[28.642,.05],[28.645,.19],[28.648,-.05],[28.651,.12],[28.654,.02],[28.657,.15],[28.66,-.03],[28.663,.08],[28.666,.18],[28.669,.00],[28.672,.11],[28.675,.04],[28.678,.14],[28.681,-.06],[28.684,.09],[28.687,.17],[28.69,.01],[28.693,.12],[28.696,-.02],[28.699,.07],[28.702,.15],[28.705,.03],[28.708,.10],[28.711,-.04],[28.714,.13],[28.717,.05],[28.72,.19],[28.723,-.01],[28.726,.08],[28.729,.14],[28.732,.02],[28.735,.11],[28.738,-.05],[28.741,.06],[28.744,.16],[28.747,.00],[28.75,.28],[28.753,.09],[28.756,.13],[28.759,-.03],[28.762,.07],[28.765,.17],[28.768,.02],[28.771,.11],[28.774,-.06],[28.777,.05],[28.78,.14],[28.783,.00],[28.786,.10],[28.789,.24],[28.792,.04],[28.795,.12],[28.798,-.04],[28.801,.08],[28.804,.16],[28.807,.01],[28.81,.10],[28.813,-.07],[28.816,.06],[28.819,.14],[28.822,.03],[28.825,.11],[28.828,-.05],[28.831,.07],[28.834,.22],[28.837,.00],[28.84,.09],[28.843,.15],[28.846,-.03],[28.849,.06],[28.852,.12],[28.855,-.06],[28.858,.04],[28.861,.13],[28.864,.01],[28.867,.08],[28.87,.19],[28.873,-.04],[28.876,.05],[28.879,.11],[28.882,-.02],[28.885,.07],[28.888,.14],[28.891,-.05],[28.894,.03],[28.897,.10],[28.90,-.08],[28.903,.02],[28.906,.08],[28.909,-.06],[28.912,.04],[28.915,.12],[28.918,-.03],[28.921,.05],[28.924,-.09],[28.927,.01],[28.93,.07],[28.933,-.05],[28.936,.03],[28.939,-.10],[28.942,.00],[28.945,.06],[28.948,-.07],[28.951,.02],[28.954,-.11],[28.957,-.02],[28.96,.04],[28.963,-.08],[28.966,.00],[28.969,-.12],[28.972,-.04],[28.975,.02],[28.978,-.09],[28.981,-.01],[28.984,-.13],[28.987,-.05],[28.99,.00],[28.993,-.10],[28.996,-.03],
[29.00,-.05],[29.005,-.13],[29.01,-.08],[29.015,-.16],[29.02,-.03],[29.025,-.11],[29.03,-.07],[29.035,-.15],[29.04,-.02],[29.045,-.10],[29.05,-.06],[29.055,-.14],[29.06,-.03],[29.065,-.11],[29.07,-.07],[29.075,-.15],[29.08,-.04],[29.085,-.12],[29.09,-.08],[29.095,-.16],[29.10,-.05],[29.105,-.13],[29.11,-.09],[29.115,-.17],[29.12,-.05],[29.125,-.12],[29.13,-.08],[29.135,-.16],[29.14,-.04],[29.145,-.12],[29.15,-.08],[29.155,-.15],[29.16,-.04],[29.165,-.11],[29.17,-.07],[29.175,-.15],[29.18,-.03],[29.185,-.11],[29.19,-.07],[29.195,-.14],[29.20,-.03],[29.205,-.10],[29.21,-.06],[29.215,-.14],[29.22,-.02],[29.225,-.10],[29.23,-.06],[29.235,-.13],[29.24,-.02],[29.245,-.09],[29.25,-.05],[29.255,-.12],[29.26,-.01],[29.265,-.08],[29.27,-.04],[29.275,-.11],[29.28,.00],[29.285,-.07],[29.29,-.03],[29.295,-.10],[29.30,.01],[29.305,-.06],[29.31,-.02],[29.315,.04],[29.32,-.05],[29.325,.02],[29.33,-.08],
[29.35,1.48],[29.37,.78],[29.368,.77],[29.375,.67],[29.365,.56],[29.362,.43],[29.37,.37],[29.36,.14],[29.365,-.36],[29.355,.25],[29.714,1.11],[29.30,.25],[29.31,.40],
[29.34,.05],[29.345,-.03],[29.35,.09],[29.355,.00],[29.36,.06],[29.365,-.04],[29.37,.10],[29.375,.02],[29.38,.07],[29.385,-.03],[29.39,.11],[29.395,.03],[29.40,.08],[29.405,-.02],[29.41,.10],[29.415,.01],[29.42,.07],[29.425,-.04],[29.43,.09],[29.435,.02],[29.44,.06],[29.445,-.03],[29.45,.08],[29.455,.00],[29.46,.06],[29.465,-.04],[29.47,.09],[29.475,.01],[29.48,.06],[29.485,-.03],[29.49,.08],[29.495,.00],[29.50,.05],[29.505,-.04],[29.51,.08],[29.515,.01],[29.52,.05],[29.525,-.05],[29.53,.07],[29.535,.00],[29.54,.04],[29.545,-.05],[29.55,.06],[29.555,-.01],[29.56,.04],[29.565,-.06],[29.57,.06],[29.575,-.01],[29.58,.03],[29.585,-.06],[29.59,.05],[29.595,-.02],[29.60,.03],[29.605,-.07],[29.61,.04],[29.615,-.03],[29.62,.02],[29.625,-.08],[29.63,.03],[29.635,-.04],[29.64,.01],[29.645,-.08],[29.65,.02],[29.655,-.05],[29.66,.00],[29.665,-.09],[29.67,.01],[29.675,-.06],[29.68,-.01],[29.685,-.10],[29.69,.00],[29.695,-.07],[29.70,-.02],[29.705,-.11],[29.71,-.01],[29.715,-.08],[29.72,-.03],[29.725,-.12],[29.73,-.02],[29.735,-.09],[29.74,-.05],[29.745,-.14],
[29.75,-.20],[29.755,-.10],[29.76,-.30],[29.765,.05],[29.77,-.25],[29.775,-.15],[29.78,-.35],[29.785,.10],[29.79,-.22],[29.795,-.05],[29.80,-.32],[29.805,.15],[29.81,-.18],[29.815,-.40],[29.82,.02],[29.825,-.12],[29.83,.25],[29.835,-.28],[29.84,-.08],[29.845,.12],[29.85,-.20],[29.855,-.36],[29.86,.05],[29.865,-.15],[29.87,.20],[29.875,-.30],[29.88,-.05],[29.885,.10],[29.89,-.23],[29.895,.28],[29.90,-.12],[29.905,-.40],[29.91,.06],[29.915,-.18],[29.92,.15],[29.925,-.28],[29.93,-.02],[29.935,-.45],[29.94,.08],[29.945,-.20],[29.95,-.32],[29.955,.02],[29.96,-.25],[29.965,-.15],[29.97,-.30],[29.975,-.22],[29.98,-.34],[29.985,-.26],[29.99,-.32],[29.995,-.24],
[30.00,-.28],[30.005,-.35],[30.01,-.26],[30.015,-.33],[30.02,-.29],[30.025,-.37],[30.03,-.25],[30.035,-.32],[30.04,-.28],[30.045,-.36],[30.05,-.26],[30.055,-.33],[30.06,-.29],[30.065,-.37],[30.07,-.25],[30.075,-.32],[30.08,-.28],[30.085,-.36],[30.09,-.26],[30.095,-.33],[30.10,-.29],[30.105,-.37],[30.11,-.25],[30.115,-.32],[30.12,-.28],[30.125,-.35],[30.13,-.26],[30.135,-.33],[30.14,-.29],[30.145,-.36],[30.15,-.25],[30.155,-.32],[30.16,-.28],[30.165,-.35],[30.17,-.26],[30.175,-.33],[30.18,-.29],[30.185,-.36],[30.19,-.25],[30.195,-.32],[30.20,-.28],[30.205,-.35],[30.21,-.26],[30.215,-.33],[30.22,-.29],[30.225,-.36],[30.23,-.25],[30.235,-.32],[30.24,-.28],[30.245,-.35],[30.24,.05],[30.245,-.10]
];

// ---- layout ----
const W = 640, H = 476;
const plotLeft = 81, plotRight = 617;
const panels = [
  { label: "(a)", title: "Ascending", top: 20.5, bottom: 210, series: [ascL2a, ascL2b, ascL3d, ascL3e, ascL3f], xLabels: false, legend: false },
  { label: "(b)", title: "Descending", top: 235, bottom: 429.5, series: [desL2a, desL2b, desL3d, desL3e, desL3f], xLabels: true, legend: true }
];

const svg = d3.select("#chart").append("svg")
  .attr("width", W).attr("height", H)
  .style("background", "#fff");

const x = d3.scaleLinear().domain([28.5, 30.25]).range([plotLeft, plotRight]);

// minor tick positions (every 0.05 in latitude, 0.1 in elevation)
const minorLat = d3.range(0, 36).map(i => +(28.5 + i * 0.05).toFixed(2));
const minorElev = d3.range(0, 26).map(i => +(-1 + i * 0.1).toFixed(1));

function styleAxis(g, size) {
  g.select(".domain").remove();
  g.selectAll("line").attr("stroke", "#000").attr("stroke-width", 1.2);
  g.selectAll("text").attr("fill", "#000")
    .style("font-family", '"Liberation Sans", Arial, sans-serif')
    .style("font-size", size + "px");
  return g;
}

panels.forEach(p => {
  const y = d3.scaleLinear().domain([-1, 1.5]).range([p.bottom, p.top]);
  const g = svg.append("g");

  // dotted grid at the interior major ticks
  g.append("g").selectAll("line").data(latTicks.slice(1, -1)).join("line")
    .attr("x1", d => x(d)).attr("x2", d => x(d))
    .attr("y1", p.top).attr("y2", p.bottom)
    .attr("stroke", "#000").attr("stroke-width", 1.3).attr("stroke-dasharray", "1.6,1.6");
  g.append("g").selectAll("line").data(elevTicks.slice(1, -1)).join("line")
    .attr("x1", plotLeft).attr("x2", plotRight)
    .attr("y1", d => y(d)).attr("y2", d => y(d))
    .attr("stroke", "#000").attr("stroke-width", 1.3).attr("stroke-dasharray", "1.6,1.6");

  // points, legend order = drawing order
  p.series.forEach((pts, i) => {
    const sg = g.append("g").attr("fill", seriesColors[i]);
    if (seriesShapes[i] === "square") {
      sg.selectAll("rect").data(pts).join("rect")
        .attr("x", d => x(d[0]) - 2.7).attr("y", d => y(d[1]) - 2.7)
        .attr("width", 5.4).attr("height", 5.4);
    } else {
      sg.selectAll("circle").data(pts).join("circle")
        .attr("cx", d => x(d[0])).attr("cy", d => y(d[1])).attr("r", 2.9);
    }
  });

  // ticks on all four sides, pointing inward
  styleAxis(g.append("g").attr("transform", `translate(0,${p.bottom})`)
    .call(d3.axisBottom(x).tickValues(minorLat).tickSize(-4).tickFormat("")), 17);
  styleAxis(g.append("g").attr("transform", `translate(0,${p.bottom})`)
    .call(d3.axisBottom(x).tickValues(latTicks).tickSize(-7).tickPadding(6)
      .tickFormat(p.xLabels ? d => String(d) : "")), 17);
  styleAxis(g.append("g").attr("transform", `translate(0,${p.top})`)
    .call(d3.axisTop(x).tickValues(minorLat).tickSize(-4).tickFormat("")), 17);
  styleAxis(g.append("g").attr("transform", `translate(0,${p.top})`)
    .call(d3.axisTop(x).tickValues(latTicks).tickSize(-7).tickFormat("")), 17);

  styleAxis(g.append("g").attr("transform", `translate(${plotLeft},0)`)
    .call(d3.axisLeft(y).tickValues(minorElev).tickSize(-4).tickFormat("")), 17);
  const leftMajor = styleAxis(g.append("g").attr("transform", `translate(${plotLeft},0)`)
    .call(d3.axisLeft(y).tickValues(elevTicks).tickSize(-7).tickPadding(10)
      .tickFormat(d => String(d))), 17);
  // the integer labels sit a little further left in the original
  leftMajor.selectAll("text").attr("dx", d => Math.abs(d) === 1 ? -5 : 0);
  styleAxis(g.append("g").attr("transform", `translate(${plotRight},0)`)
    .call(d3.axisRight(y).tickValues(minorElev).tickSize(-4).tickFormat("")), 17);
  styleAxis(g.append("g").attr("transform", `translate(${plotRight},0)`)
    .call(d3.axisRight(y).tickValues(elevTicks).tickSize(-7).tickFormat("")), 17);

  // frame
  g.append("rect")
    .attr("x", plotLeft).attr("y", p.top)
    .attr("width", plotRight - plotLeft).attr("height", p.bottom - p.top)
    .attr("fill", "none").attr("stroke", "#000").attr("stroke-width", 1.6);

  // arrows pointing at the bottom axis
  g.append("g").selectAll("path").data(arrowLats).join("path")
    .attr("d", d => {
      const ax = x(d), b = p.bottom;
      return `M${ax - 1.1},${b - 18}L${ax + 1.1},${b - 18}L${ax + 1.1},${b - 10}L${ax + 6},${b - 10}L${ax},${b}L${ax - 6},${b - 10}L${ax - 1.1},${b - 10}Z`;
    })
    .attr("fill", "#000");

  // panel label
  g.append("text").attr("x", 96).attr("y", p.top + 22)
    .style("font-family", '"Liberation Serif", "Times New Roman", serif')
    .style("font-size", "26px").text(p.label);
  g.append("text").attr("x", 131).attr("y", p.top + 21)
    .style("font-size", "20px").text(p.title);

  // y axis title
  svg.append("text")
    .attr("transform", `translate(22,${(p.top + p.bottom) / 2 + 5}) rotate(-90)`)
    .attr("text-anchor", "middle")
    .style("font-size", "20px")
    .text("ICESat elevation (m)");

  if (p.legend) {
    const lg = g.append("g");
    lg.append("rect").attr("x", 103).attr("y", 258).attr("width", 204).attr("height", 67)
      .attr("fill", "#fff").attr("stroke", "#000").attr("stroke-width", 1.5);
    const cols = [[0, 1, 2], [3, 4]];
    cols.forEach((col, c) => {
      col.forEach((si, r) => {
        const mx = c === 0 ? 140 : 236, cy = 273.5 + r * 18;
        if (seriesShapes[si] === "square") {
          lg.append("rect").attr("x", mx - 2.3).attr("y", cy - 2.3).attr("width", 4.6).attr("height", 4.6)
            .attr("fill", seriesColors[si]);
        } else {
          lg.append("circle").attr("cx", mx).attr("cy", cy).attr("r", 2.5).attr("fill", seriesColors[si]);
        }
        lg.append("text").attr("x", mx + 30).attr("y", cy + 6)
          .attr("fill", seriesColors[si]).style("font-size", "17px").text(seriesNames[si]);
      });
    });
  }
});

// x axis title
svg.append("text").attr("x", 346).attr("y", 471)
  .attr("text-anchor", "middle").style("font-size", "19px").text("Latitude");
</script>
</body>
</html>
